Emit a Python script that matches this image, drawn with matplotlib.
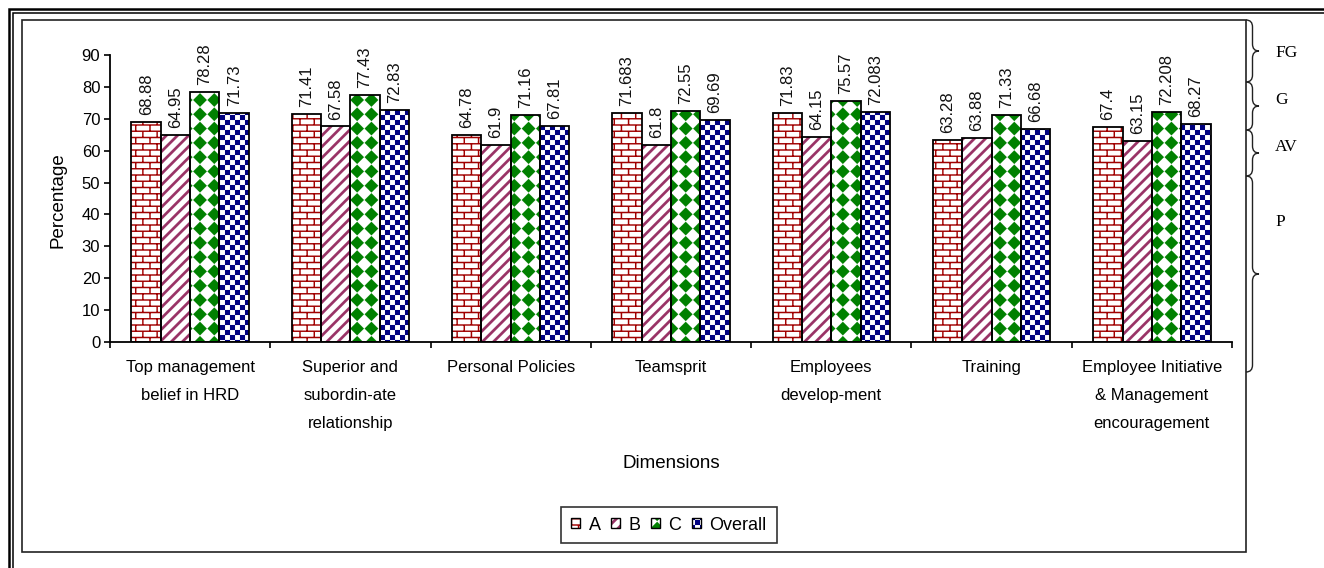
"""
Grouped bar chart of HRD climate dimensions, patterned bars and grade braces.
"""

import warnings
import numpy as np
import matplotlib
matplotlib.use('Agg')
import matplotlib.pyplot as plt
import matplotlib.hatch as mhatch
from matplotlib.path import Path
from matplotlib.patches import Rectangle, PathPatch, Patch

warnings.filterwarnings('ignore', message='hatch must consist')

categories = ['Top management\nbelief in HRD', 'Superior and\nsubordin-ate\nrelationship',
              'Personal Policies', 'Teamsprit', 'Employees\ndevelop-ment', 'Training',
              'Employee Initiative\n& Management\nencouragement']
series_names = ['A', 'B', 'C', 'Overall']
vals_a = [68.88, 71.41, 64.78, 71.683, 71.83, 63.28, 67.4]
vals_b = [64.95, 67.58, 61.9, 61.8, 64.15, 63.88, 63.15]
vals_c = [78.28, 77.43, 71.16, 72.55, 75.57, 71.33, 72.208]
vals_overall = [71.73, 72.83, 67.81, 69.69, 72.083, 66.68, 68.27]
yticks = [0, 10, 20, 30, 40, 50, 60, 70, 80, 90]
bands = ['FG', 'G', 'AV', 'P']

colours = ['#A00000', '#993366', '#008000', '#000080']
patterns = ['b', 's', 'd', 'k']   # custom hatches registered below


# ---- custom hatch patterns (filled quads inside the unit tile) ----
def rect(x0, y0, x1, y1):
    return [(x0, y0), (x1, y0), (x1, y1), (x0, y1)]


class _Tiles(mhatch.HatchPatternBase):
    key = ''

    def __init__(self, hatch, density):
        self.polys = self.make_polys() if self.key in hatch else []
        self.num_vertices = 5 * len(self.polys)

    def set_vertices_and_codes(self, vertices, codes):
        for i, quad in enumerate(self.polys):
            vertices[5*i:5*i+4] = quad
            vertices[5*i+4] = quad[0]
            codes[5*i] = Path.MOVETO
            codes[5*i+1:5*i+4] = Path.LINETO
            codes[5*i+4] = Path.CLOSEPOLY


class BrickHatch(_Tiles):
    key = 'b'

    def make_polys(self):
        rows, cols, t = 16, 7, 0.007
        out = [rect(0, r/rows - t, 1, r/rows + t) for r in range(rows + 1)]
        for r in range(rows):
            shift = 0.5 * (r % 2)
            for c in range(cols + 1):
                x = (c + shift) / cols
                out.append(rect(x - t, r/rows, x + t, (r + 1)/rows))
        return out


class StripeHatch(_Tiles):
    key = 's'

    def make_polys(self):
        n, w = 9, 0.038
        return [[(k/n, 0), (k/n + w, 0), (k/n + w + 1, 1), (k/n + 1, 1)]
                for k in range(-n - 1, n + 1)]


class DiamondHatch(_Tiles):
    key = 'd'

    def make_polys(self):
        # rotated checkerboard: green diamonds touching at the tips
        n = 7
        p = 1 / n
        h = 0.48 * p
        out = []
        for i in range(n + 1):
            for j in range(n + 1):
                cx, cy = i * p, j * p
                out.append([(cx - h, cy), (cx, cy - h), (cx + h, cy), (cx, cy + h)])
        return out


class CheckerHatch(_Tiles):
    key = 'k'

    def make_polys(self):
        n = 20
        s = 1 / n
        return [rect(i*s, j*s, (i+1)*s, (j+1)*s)
                for i in range(n) for j in range(n) if (i + j) % 2 == 0]


mhatch._hatch_types.extend([BrickHatch, StripeHatch, DiamondHatch, CheckerHatch])

plt.rcParams['font.family'] = ['Liberation Sans', 'DejaVu Sans']
plt.rcParams['hatch.linewidth'] = 0.05

W, H = 1324, 568
fig = plt.figure(figsize=(W/100, H/100), dpi=100)


def fx(x):
    return x / W


def fy(y):
    return 1 - y / H


ax = fig.add_axes([fx(110), fy(342), (1232-110)/W, (342-55)/H])

series = [vals_a, vals_b, vals_c, vals_overall]
x = np.arange(len(categories))
w = 0.183
for k, vals in enumerate(series):
    pos = x + (k - 1.5) * w
    ax.bar(pos, vals, w, facecolor='white', edgecolor=colours[k], linewidth=0,
           hatch=patterns[k], zorder=2)
    outline = ax.bar(pos, vals, w, fill=False, edgecolor='black', linewidth=1.3, zorder=3)
    ax.bar_label(outline, labels=[str(v) for v in vals], rotation=90, padding=5,
                 fontsize=12, color='#111111')

ax.set_xlim(-0.5, len(categories) - 0.5)
ax.set_ylim(0, 90)
ax.set_yticks(yticks)
ax.set_xticks(np.arange(len(categories) + 1) - 0.5)
ax.set_xticklabels([])
ax.set_xticks(x, minor=True)
ax.set_xticklabels(categories, minor=True, fontsize=12, linespacing=2.1)
ax.tick_params(axis='x', which='minor', length=0, pad=13)
ax.tick_params(axis='x', which='major', length=4, width=1.2, direction='out')
ax.tick_params(axis='y', length=4, width=1.2, labelsize=12, pad=3)
for side in ['top', 'right']:
    ax.spines[side].set_visible(False)
for side in ['left', 'bottom']:
    ax.spines[side].set_linewidth(1.3)

fig.text(fx(58), fy(200), 'Percentage', rotation=90, ha='center', va='center', fontsize=13.5)
fig.text(fx(671), fy(463), 'Dimensions', ha='center', va='center', fontsize=13.5)

handles = [(Patch(facecolor='white', edgecolor=colours[k], linewidth=0, hatch=patterns[k]),
            Patch(facecolor='none', edgecolor='black', linewidth=1.0))
           for k in range(len(series_names))]
leg = fig.legend(handles, series_names, loc='center', bbox_to_anchor=(fx(669), fy(525)),
                 ncol=4, fontsize=13, frameon=True, fancybox=False, edgecolor='black',
                 handlelength=0.5, handleheight=0.5, handletextpad=0.45, columnspacing=0.6,
                 borderpad=0.55, borderaxespad=0)
leg.get_frame().set_linewidth(1.2)

# chart frame and page border
fig.add_artist(Rectangle((fx(22), fy(552)), fx(1246) - fx(22), fy(20) - fy(552),
                         transform=fig.transFigure, fill=False, edgecolor='#222222',
                         linewidth=1.2))
for off, lw in [(9, 1.8), (12.5, 1.1)]:
    fig.add_artist(Rectangle((fx(off), fy(H + 20)), 1, fy(off) - fy(H + 20),
                             transform=fig.transFigure, fill=False, edgecolor='black',
                             linewidth=lw))


def brace(y0, y1, x0=1246, depth=13):
    q = depth / 2
    r = min(7, (y1 - y0) / 5)
    ym = (y0 + y1) / 2
    pts = [(x0, y0), (x0 + q, y0), (x0 + q, y0 + r),
           (x0 + q, ym - r), (x0 + q, ym), (x0 + depth, ym),
           (x0 + q, ym), (x0 + q, ym + r),
           (x0 + q, y1 - r), (x0 + q, y1), (x0, y1)]
    codes = [Path.MOVETO, Path.CURVE3, Path.CURVE3,
             Path.LINETO, Path.CURVE3, Path.CURVE3,
             Path.CURVE3, Path.CURVE3,
             Path.LINETO, Path.CURVE3, Path.CURVE3]
    path = Path([(fx(a), fy(b)) for a, b in pts], codes)
    fig.add_artist(PathPatch(path, transform=fig.transFigure, fill=False,
                             edgecolor='#222222', linewidth=1.0))


brace_spans = [(20, 82), (82, 130), (130, 176), (176, 372)]
label_y = [53, 100, 147, 222]
for name, (y0, y1), ly in zip(bands, brace_spans, label_y):
    brace(y0, y1)
    fig.text(fx(1275), fy(ly), name, ha='left', va='center', fontsize=12.5,
             family=['Liberation Serif', 'DejaVu Serif'])

fig.savefig('out.png', dpi=100, facecolor='white')
